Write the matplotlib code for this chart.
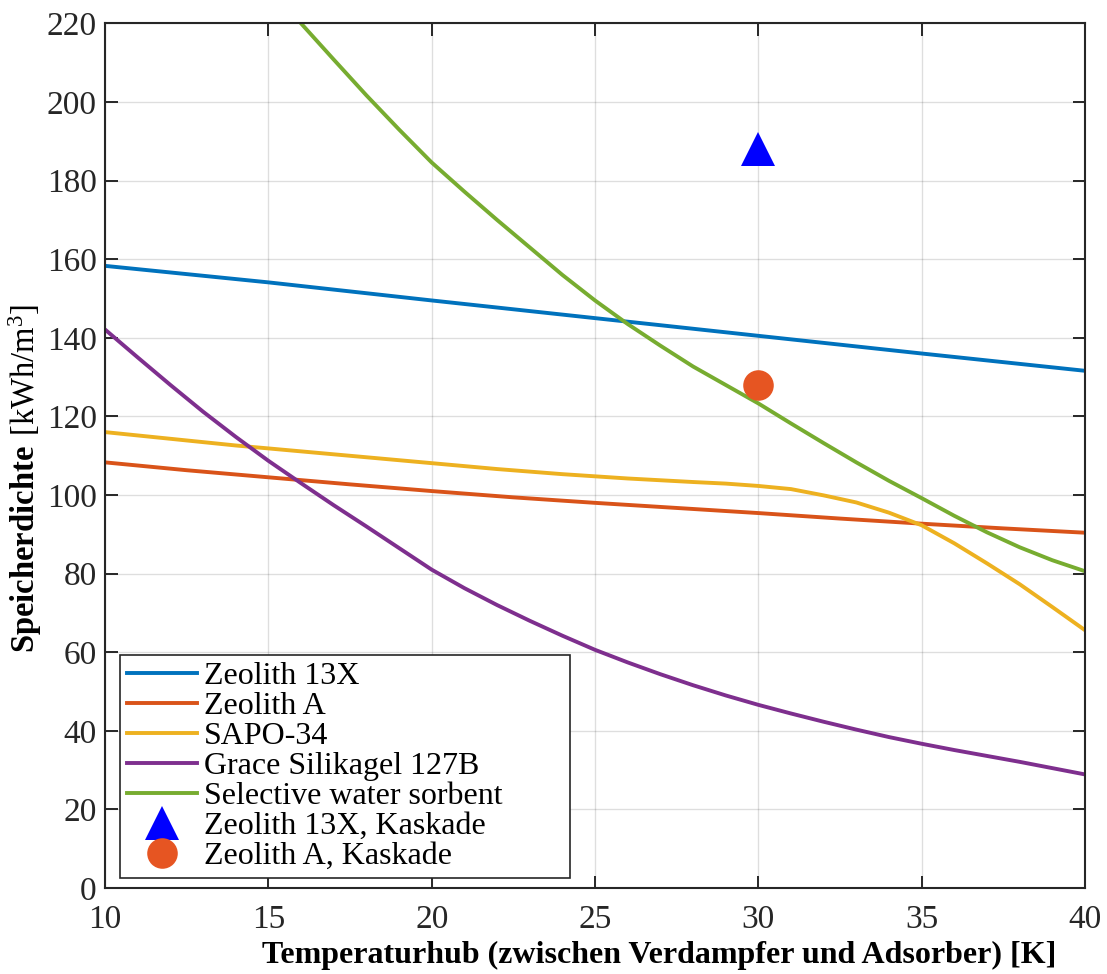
import numpy as np
import matplotlib
matplotlib.use('Agg')
import matplotlib.pyplot as plt

plt.rcParams['font.family'] = ['Liberation Serif', 'DejaVu Serif']
plt.rcParams['mathtext.fontset'] = 'custom'
plt.rcParams['mathtext.rm'] = 'Liberation Serif'
plt.rcParams['mathtext.bf'] = 'Liberation Serif:bold'

# ── Storage density vs. temperature lift ─────────────────────────────
x_13x = [10, 15, 20, 25, 30, 35, 40]
y_13x = [158.3, 154.1, 149.5, 145.0, 140.5, 136.0, 131.6]

x_a = [10, 12.5, 15, 17.5, 20, 22.5, 25, 27.5, 30, 32.5, 35, 37.5, 40]
y_a = [108.3, 106.3, 104.5, 102.7, 101.0, 99.4, 98.0, 96.7, 95.4, 94.0, 92.7, 91.5, 90.4]

x_sapo = [10, 12, 14, 16, 18, 20, 22, 24, 26, 28, 29, 30, 31, 32, 33, 34, 35, 36, 37, 38, 39, 40]
y_sapo = [116.0, 114.3, 112.6, 111.1, 109.6, 108.1, 106.6, 105.3, 104.2, 103.3, 102.9, 102.3,
          101.5, 99.9, 98.1, 95.5, 92.3, 87.7, 82.6, 77.3, 71.5, 65.6]

x_grace = list(range(10, 41))
y_grace = [142.1, 135.0, 128.0, 121.2, 114.8, 108.7, 103.0, 97.4, 92.0, 86.5, 81.0,
           76.3, 72.0, 68.0, 64.2, 60.6, 57.4, 54.4, 51.6, 49.0, 46.6,
           44.4, 42.3, 40.3, 38.4, 36.7, 35.1, 33.6, 32.1, 30.5, 28.9]

x_sws = list(range(16, 41))
y_sws = [220.0, 210.8, 201.7, 193.0, 184.6, 177.2, 170.0, 163.0, 156.0, 149.5, 143.5,
         138.0, 132.7, 128.0, 123.3, 118.2, 113.2, 108.3, 103.6, 99.2, 94.7,
         90.5, 86.7, 83.4, 80.6]

# cascade points
x_casc = [30]
y_casc_13x = [188.0]
y_casc_a = [128.1]

labels = ['Zeolith 13X', 'Zeolith A', 'SAPO-34', 'Grace Silikagel 127B',
          'Selective water sorbent', 'Zeolith 13X, Kaskade', 'Zeolith A, Kaskade']
colors = ['#0072BD', '#D95319', '#EDB120', '#7E2F8E', '#77AC30']

fig = plt.figure(figsize=(11.07, 9.74), dpi=100)
ax = fig.add_axes([0.0949, 0.0883, 0.8852, 0.8877])

lw = 2.8
ax.plot(x_13x, y_13x, color=colors[0], lw=lw, label=labels[0])
ax.plot(x_a, y_a, color=colors[1], lw=lw, label=labels[1])
ax.plot(x_sapo, y_sapo, color=colors[2], lw=lw, label=labels[2])
ax.plot(x_grace, y_grace, color=colors[3], lw=lw, label=labels[3])
ax.plot(x_sws, y_sws, color=colors[4], lw=lw, label=labels[4])
ax.plot(x_casc, y_casc_13x, ls='none', marker='^', ms=25, color='#0000FF',
        markeredgewidth=0, label=labels[5])
ax.plot(x_casc, y_casc_a, ls='none', marker='o', ms=22, color='#E65522',
        markeredgewidth=0, label=labels[6])

ax.set_xlim(10, 40)
ax.set_ylim(0, 220)
ax.set_xticks(np.arange(10, 41, 5))
ax.set_yticks(np.arange(0, 221, 20))
ax.grid(True, color='#000000', alpha=0.13, lw=1.0)
ax.set_axisbelow(True)
ax.tick_params(direction='in', length=9, width=1.4, top=True, right=True,
               labelsize=24, colors='#262626', pad=6)
ax.tick_params(axis='x', pad=12)
for s in ax.spines.values():
    s.set_color('#262626')
    s.set_linewidth(1.5)

ax.set_xlabel('Temperaturhub (zwischen Verdampfer und Adsorber) [K]',
              fontsize=23, fontweight='bold', labelpad=4)
ax.xaxis.label.set_x(0.566)
ax.set_ylabel(r'$\mathbf{Speicherdichte}\ [\mathrm{kWh/m^3}]$', fontsize=23.5, labelpad=2)
ax.yaxis.label.set_y(0.474)

leg = ax.legend(loc='lower left', bbox_to_anchor=(0.0153, 0.0116, 0.459, 0.25),
                mode='expand', fontsize=23,
                frameon=True, fancybox=False, framealpha=1, edgecolor='#262626',
                handlelength=2.2, handletextpad=0.2, labelspacing=0.02,
                borderpad=0.22, borderaxespad=0.0)
leg.get_frame().set_linewidth(1.2)

fig.savefig('out.png', dpi=100)
